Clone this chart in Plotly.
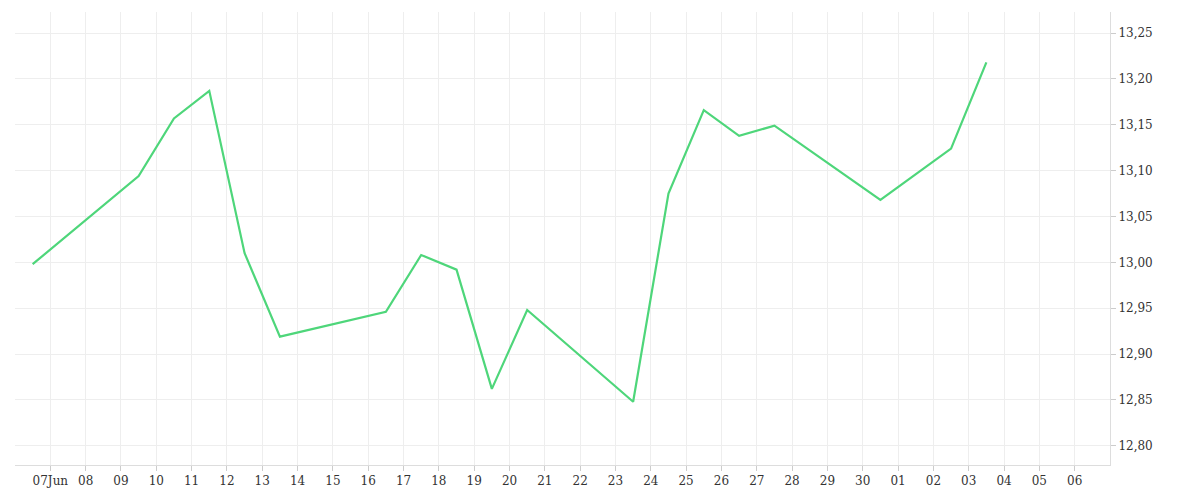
import plotly.graph_objects as go
import pandas as pd

dates = ["2024-06-06 12:00","2024-06-09 12:00","2024-06-10 12:00","2024-06-11 12:00","2024-06-12 12:00",
         "2024-06-13 12:00","2024-06-16 12:00","2024-06-17 12:00","2024-06-18 12:00","2024-06-19 12:00",
         "2024-06-20 12:00","2024-06-23 12:00","2024-06-24 12:00","2024-06-25 12:00","2024-06-26 12:00",
         "2024-06-27 12:00","2024-06-30 12:00","2024-07-02 12:00","2024-07-03 12:00"]
values = [12.998,13.094,13.157,13.187,13.010,12.919,12.946,13.008,12.992,12.862,
          12.948,12.848,13.075,13.166,13.138,13.149,13.068,13.124,13.218]
tick_dates = pd.date_range("2024-06-07","2024-07-06",freq="D")
tick_labels = ["07Jun"] + [d.strftime("%d") for d in tick_dates[1:]]

fig = go.Figure(go.Scatter(x=pd.to_datetime(dates), y=values, mode="lines",
                           line=dict(color="#4ed67a", width=2.2)))
fig.update_layout(
    width=1200, height=500, plot_bgcolor="white", paper_bgcolor="white",
    margin=dict(l=7, r=98, t=4, b=43), showlegend=False,
    separators=",.", font=dict(family="DejaVu Serif", size=12, color="#333"),
)
fig.update_xaxes(range=[pd.Timestamp("2024-06-06"), pd.Timestamp("2024-07-07")],
                 tickvals=tick_dates, ticktext=tick_labels, showgrid=True,
                 gridcolor="#eeeeee", ticks="outside", ticklen=5, tickcolor="#ccc",
                 showline=True, linecolor="#ddd", tickfont=dict(size=12))
fig.update_yaxes(side="right", range=[12.779, 13.273], dtick=0.05, tickformat=".2f",
                 showgrid=True, gridcolor="#eeeeee", ticks="outside", ticklen=5,
                 tickcolor="#ccc", showline=True, linecolor="#ddd", tickfont=dict(size=12))
fig.write_html("out.html")
